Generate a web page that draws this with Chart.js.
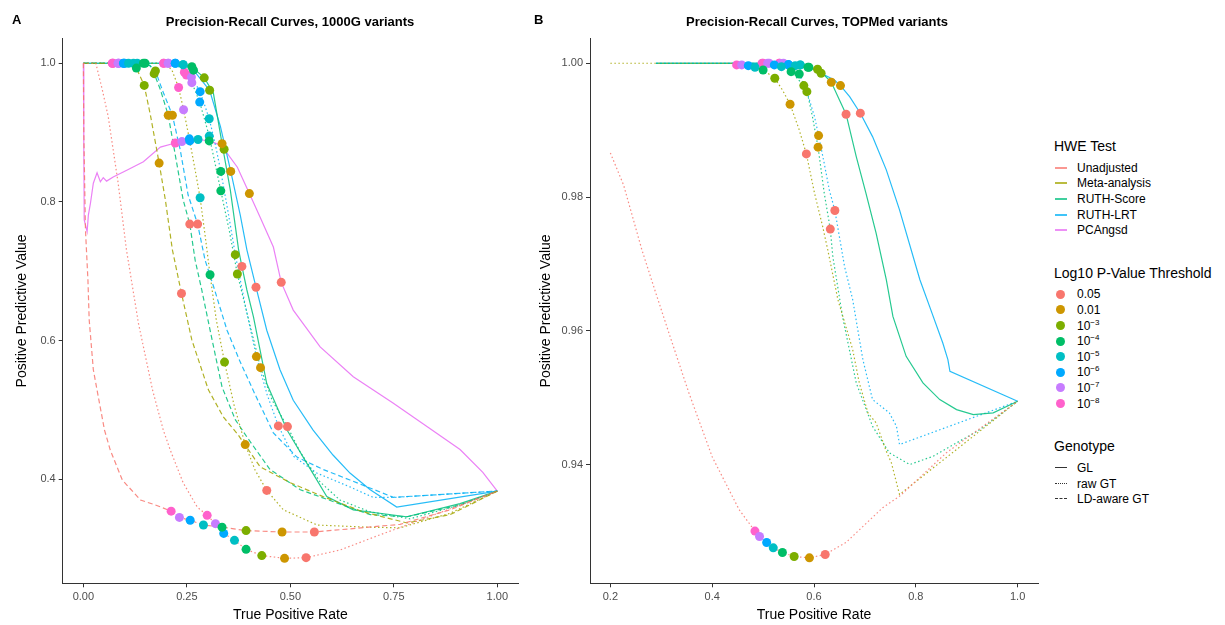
<!DOCTYPE html>
<html>
<head>
<meta charset="utf-8">
<script src="https://cdn.jsdelivr.net/npm/chart.js@4.4.1/dist/chart.umd.min.js"></script>
<style>
  body { margin: 0; width: 1225px; height: 625px; background: #fff; position: relative; overflow: hidden;
         font-family: "Liberation Sans", Arial, sans-serif; color: #000; }
  canvas { position: absolute; top: 0; }
  .tag, .ttl { position: absolute; font-weight: bold; font-size: 13px; white-space: nowrap; }
  .ttl { transform: translateX(-50%); }
  .lg { position: absolute; white-space: nowrap; font-size: 12px; line-height: 14px; }
  .lg.head { font-size: 14px; line-height: 16px; }
  .key { position: absolute; width: 12px; height: 2px; }
  .gkey { position: absolute; width: 12px; height: 0; }
  .dot { position: absolute; width: 9px; height: 9px; border-radius: 50%; }
  sup { font-size: 8px; vertical-align: 5px; line-height: 0; }
</style>
</head>
<body>
<canvas id="chartA" width="530" height="625" style="left:0"></canvas>
<canvas id="chartB" width="520" height="625" style="left:530px"></canvas>
<div class="tag" style="left:12px;top:12px">A</div>
<div class="ttl" style="left:290px;top:14px">Precision-Recall Curves, 1000G variants</div>
<div class="tag" style="left:534px;top:12px">B</div>
<div class="ttl" style="left:817px;top:14px">Precision-Recall Curves, TOPMed variants</div>
<div id="legend"></div>

<script>
// ---- axes
const xTicksA = [0, 0.25, 0.5, 0.75, 1];
const yTicksA = [0.4, 0.6, 0.8, 1.0];
const xTicksB = [0.2, 0.4, 0.6, 0.8, 1.0];
const yTicksB = [0.94, 0.96, 0.98, 1.00];

// ---- legend
const methods = ['Unadjusted', 'Meta-analysis', 'RUTH-Score', 'RUTH-LRT', 'PCAngsd'];
const methodColors = ['#F8766D', '#A3A500', '#00BF7D', '#00B0F6', '#E76BF3'];
const thresholds = ['0.05', '0.01', '10<sup>−3</sup>', '10<sup>−4</sup>', '10<sup>−5</sup>', '10<sup>−6</sup>', '10<sup>−7</sup>', '10<sup>−8</sup>'];
const thresholdColors = ['#F8766D', '#CD9600', '#7CAE00', '#00BE67', '#00BFC4', '#00A9FF', '#C77CFF', '#FF61CC'];
const genotypes = ['GL', 'raw GT', 'LD-aware GT'];

// ---- panel A curves (TPR, PPV)
const A_unadjRaw = [[0,1],[0.03,1.0],[0.046,0.961],[0.060,0.923],[0.072,0.875],[0.084,0.827],[0.104,0.731],[0.133,0.625],[0.167,0.529],[0.193,0.471],[0.210,0.442],[0.241,0.395],[0.275,0.360],[0.299,0.348],[0.319,0.336],[0.339,0.322],[0.365,0.312],[0.393,0.299],[0.431,0.290],[0.486,0.286],[0.538,0.287],[0.620,0.298],[0.717,0.320],[0.813,0.341],[0.910,0.363],[1.0,0.383]];
const A_unadjLD = [[0,1],[0.001,0.90],[0.005,0.760],[0.011,0.687],[0.014,0.630],[0.024,0.558],[0.036,0.519],[0.051,0.471],[0.065,0.442],[0.094,0.399],[0.138,0.370],[0.174,0.363],[0.212,0.354],[0.232,0.345],[0.258,0.341],[0.290,0.334],[0.335,0.331],[0.393,0.326],[0.480,0.324],[0.558,0.324],[0.765,0.335],[0.886,0.356],[1.0,0.383]];
const A_metaRaw = [[0,1],[0.198,1.0],[0.214,0.990],[0.230,0.965],[0.242,0.933],[0.256,0.891],[0.270,0.846],[0.282,0.806],[0.294,0.752],[0.306,0.695],[0.321,0.630],[0.341,0.569],[0.364,0.507],[0.391,0.450],[0.415,0.413],[0.443,0.384],[0.483,0.356],[0.565,0.334],[0.685,0.331],[0.765,0.330],[0.886,0.351],[1.0,0.383]];
const A_metaLD = [[0,1],[0.070,1.0],[0.109,1.0],[0.118,0.998],[0.128,0.993],[0.147,0.968],[0.162,0.925],[0.183,0.856],[0.198,0.803],[0.215,0.731],[0.237,0.668],[0.262,0.601],[0.302,0.529],[0.338,0.490],[0.374,0.464],[0.427,0.418],[0.500,0.395],[0.579,0.375],[0.676,0.353],[0.782,0.337],[0.886,0.349],[1.0,0.383]];
const A_scoreGL = [[0,1],[0.194,1.0],[0.222,1.0],[0.241,0.998],[0.262,0.995],[0.292,0.979],[0.314,0.957],[0.335,0.884],[0.355,0.817],[0.375,0.731],[0.383,0.707],[0.395,0.673],[0.411,0.634],[0.443,0.538],[0.492,0.471],[0.540,0.423],[0.588,0.375],[0.652,0.356],[0.781,0.346],[0.910,0.365],[1.0,0.383]];
const A_scoreRaw = [[0,1],[0.229,1.0],[0.249,0.983],[0.262,0.972],[0.281,0.944],[0.304,0.895],[0.319,0.853],[0.332,0.816],[0.353,0.757],[0.372,0.696],[0.398,0.633],[0.428,0.561],[0.456,0.514],[0.493,0.476],[0.524,0.439],[0.572,0.396],[0.620,0.370],[0.693,0.353],[0.789,0.343],[0.910,0.363],[1.0,0.383]];
const A_scoreLD = [[0,1],[0.070,1.0],[0.130,1.0],[0.145,1.0],[0.162,0.996],[0.171,0.985],[0.186,0.962],[0.205,0.925],[0.224,0.861],[0.241,0.803],[0.257,0.768],[0.270,0.716],[0.286,0.673],[0.311,0.601],[0.335,0.533],[0.367,0.486],[0.395,0.461],[0.451,0.414],[0.524,0.385],[0.612,0.366],[0.693,0.349],[0.782,0.346],[0.910,0.363],[1.0,0.383]];
const A_lrtGL = [[0,1],[0.194,1.0],[0.222,1.0],[0.241,0.998],[0.266,0.990],[0.305,0.961],[0.331,0.909],[0.356,0.844],[0.379,0.781],[0.395,0.731],[0.417,0.677],[0.443,0.615],[0.475,0.558],[0.507,0.514],[0.555,0.471],[0.603,0.435],[0.644,0.409],[0.693,0.385],[0.757,0.360],[1.0,0.383]];
const A_lrtRaw = [[0,1],[0.222,1.0],[0.244,0.987],[0.261,0.980],[0.282,0.959],[0.304,0.920],[0.319,0.882],[0.332,0.844],[0.350,0.784],[0.367,0.724],[0.391,0.651],[0.418,0.577],[0.444,0.522],[0.471,0.477],[0.508,0.433],[0.564,0.409],[0.644,0.389],[0.700,0.374],[0.753,0.374],[1.0,0.383]];
const A_lrtLD = [[0,1],[0.072,1.0],[0.149,1.0],[0.162,0.996],[0.174,0.989],[0.191,0.961],[0.215,0.925],[0.234,0.875],[0.253,0.810],[0.276,0.768],[0.294,0.716],[0.315,0.677],[0.347,0.615],[0.379,0.569],[0.415,0.522],[0.459,0.467],[0.516,0.432],[0.580,0.414],[0.644,0.399],[0.749,0.374],[1.0,0.383]];
const A_pcangsd = [[0,1],[0.001,0.875],[0.002,0.774],[0.009,0.757],[0.012,0.781],[0.017,0.798],[0.024,0.827],[0.033,0.842],[0.041,0.829],[0.048,0.835],[0.056,0.830],[0.072,0.836],[0.106,0.846],[0.145,0.858],[0.186,0.879],[0.222,0.885],[0.238,0.887],[0.257,0.888],[0.277,0.890],[0.304,0.888],[0.331,0.882],[0.340,0.876],[0.372,0.850],[0.401,0.812],[0.427,0.778],[0.459,0.735],[0.478,0.684],[0.507,0.644],[0.572,0.591],[0.652,0.548],[0.748,0.510],[0.830,0.476],[0.910,0.443],[0.965,0.410],[1.0,0.383]];

// ---- panel A threshold points
const A_p05 = [[0.558,0.324],[0.538,0.287],[0.237,0.668],[0.443,0.384],[0.257,0.768],[0.276,0.768],[0.383,0.707],[0.417,0.677],[0.493,0.476],[0.471,0.477],[0.478,0.684]];
const A_p01 = [[0.480,0.324],[0.486,0.286],[0.183,0.856],[0.391,0.450],[0.205,0.925],[0.215,0.925],[0.335,0.884],[0.356,0.844],[0.428,0.561],[0.418,0.577],[0.401,0.812]];
const A_p1e3 = [[0.393,0.326],[0.431,0.290],[0.147,0.968],[0.341,0.569],[0.171,0.985],[0.174,0.989],[0.292,0.979],[0.305,0.961],[0.372,0.696],[0.367,0.724],[0.340,0.876]];
const A_p1e4 = [[0.335,0.331],[0.393,0.299],[0.128,0.993],[0.306,0.695],[0.145,1.0],[0.149,1.0],[0.262,0.995],[0.266,0.990],[0.332,0.816],[0.332,0.844],[0.304,0.888]];
const A_p1e5 = [[0.290,0.334],[0.365,0.312],[0.109,1.0],[0.282,0.806],[0.130,1.0],[0.121,1.0],[0.241,0.998],[0.241,0.998],[0.304,0.895],[0.304,0.920],[0.277,0.890]];
const A_p1e6 = [[0.258,0.341],[0.339,0.322],[0.097,1.0],[0.256,0.891],[0.097,1.0],[0.100,1.0],[0.222,1.0],[0.222,1.0],[0.281,0.944],[0.282,0.959],[0.257,0.888]];
const A_p1e7 = [[0.232,0.345],[0.319,0.336],[0.084,1.0],[0.242,0.933],[0.084,1.0],[0.086,1.0],[0.205,1.0],[0.205,1.0],[0.262,0.972],[0.261,0.980],[0.238,0.887]];
const A_p1e8 = [[0.212,0.354],[0.299,0.348],[0.070,1.0],[0.230,0.965],[0.070,1.0],[0.072,1.0],[0.194,1.0],[0.194,1.0],[0.249,0.983],[0.244,0.987],[0.222,0.885]];

// ---- panel B curves
const B_unadjRaw = [[0.200,0.9866],[0.226,0.9818],[0.262,0.9721],[0.287,0.9662],[0.315,0.9597],[0.354,0.9508],[0.400,0.9412],[0.453,0.9333],[0.484,0.9301],[0.493,0.9293],[0.507,0.9284],[0.520,0.9276],[0.538,0.9269],[0.561,0.9263],[0.591,0.9261],[0.622,0.9266],[0.663,0.9284],[0.735,0.9336],[0.768,0.9353],[0.860,0.9418],[1.0,0.9495]];
const B_metaRaw = [[0.2,1.0],[0.44,1.0],[0.448,0.99975],[0.458,0.99975],[0.471,0.99964],[0.484,0.9994],[0.500,0.9990],[0.523,0.99776],[0.538,0.99601],[0.553,0.99388],[0.571,0.99004],[0.585,0.98646],[0.601,0.9806],[0.617,0.97561],[0.627,0.97213],[0.647,0.96467],[0.676,0.95721],[0.689,0.95224],[0.706,0.94776],[0.722,0.94627],[0.742,0.94203],[0.752,0.9403],[0.768,0.93557],[1.0,0.9495]];
const B_scoreGL = [[0.29,1.0],[0.52,1.0],[0.532,1.0],[0.536,0.99995],[0.550,0.9998],[0.573,0.99975],[0.588,0.9994],[0.607,0.9991],[0.620,0.99825],[0.634,0.99716],[0.650,0.99452],[0.663,0.99239],[0.683,0.98606],[0.702,0.9806],[0.722,0.97463],[0.742,0.96766],[0.755,0.96218],[0.781,0.95621],[0.814,0.95224],[0.847,0.94975],[0.880,0.94825],[0.913,0.94751],[0.952,0.94776],[1.0,0.9495]];
const B_scoreRaw = [[0.29,1.0],[0.49,1.0],[0.498,1.0],[0.509,1.0],[0.522,0.99975],[0.536,0.99949],[0.555,0.99875],[0.580,0.99666],[0.587,0.99557],[0.597,0.99199],[0.608,0.98746],[0.620,0.98064],[0.632,0.97522],[0.637,0.9711],[0.656,0.96218],[0.683,0.95224],[0.715,0.94576],[0.748,0.94179],[0.788,0.94004],[0.834,0.94128],[0.926,0.94527],[1.0,0.9495]];
const B_lrtGL = [[0.29,1.0],[0.52,1.0],[0.532,1.0],[0.540,1.0],[0.550,0.99975],[0.573,0.99975],[0.590,0.9994],[0.614,0.9985],[0.640,0.9975],[0.652,0.99666],[0.670,0.9950],[0.691,0.99254],[0.715,0.98904],[0.742,0.98407],[0.768,0.9781],[0.808,0.96766],[0.827,0.96367],[0.853,0.95821],[0.863,0.95572],[0.867,0.95397],[1.0,0.9495]];
const B_lrtRaw = [[0.29,1.0],[0.49,1.0],[0.500,1.0],[0.512,1.0],[0.550,0.99975],[0.563,0.99964],[0.571,0.9984],[0.586,0.99576],[0.601,0.99203],[0.609,0.98919],[0.620,0.98507],[0.630,0.98109],[0.641,0.978],[0.660,0.96964],[0.676,0.96467],[0.696,0.95572],[0.715,0.94975],[0.748,0.94776],[0.762,0.94576],[0.768,0.94303],[1.0,0.9495]];

// ---- panel B threshold points
const B_p05 = [[0.622,0.9266],[0.585,0.98646],[0.632,0.97522],[0.641,0.978],[0.663,0.99239],[0.691,0.99254]];
const B_p01 = [[0.591,0.9261],[0.553,0.99388],[0.608,0.98746],[0.609,0.98919],[0.634,0.99716],[0.652,0.99666]];
const B_p1e3 = [[0.561,0.9263],[0.523,0.99776],[0.580,0.99666],[0.586,0.99576],[0.607,0.9991],[0.614,0.9985]];
const B_p1e4 = [[0.538,0.9269],[0.500,0.9990],[0.555,0.99875],[0.571,0.9984],[0.588,0.9994],[0.590,0.9994]];
const B_p1e5 = [[0.520,0.9276],[0.484,0.9994],[0.536,0.99949],[0.563,0.99964],[0.573,0.99975],[0.573,0.99975]];
const B_p1e6 = [[0.507,0.9284],[0.471,0.99964],[0.522,0.99975],[0.550,0.99975],[0.550,0.9998],[0.550,0.99975]];
const B_p1e7 = [[0.493,0.9293],[0.458,0.99975],[0.509,1.0],[0.512,1.0],[0.536,0.99995],[0.540,1.0]];
const B_p1e8 = [[0.484,0.9301],[0.448,0.99975],[0.498,1.0],[0.500,1.0],[0.532,1.0],[0.532,1.0]];

// [data, method index, genotype index]  genotype: 0 GL, 1 raw GT, 2 LD-aware GT
const curvesA = [
  [A_unadjRaw, 0, 1], [A_unadjLD, 0, 2],
  [A_metaRaw, 1, 1], [A_metaLD, 1, 2],
  [A_scoreGL, 2, 0], [A_scoreRaw, 2, 1], [A_scoreLD, 2, 2],
  [A_lrtGL, 3, 0], [A_lrtRaw, 3, 1], [A_lrtLD, 3, 2],
  [A_pcangsd, 4, 0]
];
const curvesB = [
  [B_unadjRaw, 0, 1], [B_metaRaw, 1, 1],
  [B_scoreGL, 2, 0], [B_scoreRaw, 2, 1],
  [B_lrtGL, 3, 0], [B_lrtRaw, 3, 1]
];
const pointsA = [A_p05, A_p01, A_p1e3, A_p1e4, A_p1e5, A_p1e6, A_p1e7, A_p1e8];
const pointsB = [B_p05, B_p01, B_p1e3, B_p1e4, B_p1e5, B_p1e6, B_p1e7, B_p1e8];

const dashes = [[], [1.5, 2.5], [5, 3]];
const FONT = '"Liberation Sans", Arial, sans-serif';

function hexA(hex, a) {
  const n = parseInt(hex.slice(1), 16);
  return `rgba(${n >> 16},${(n >> 8) & 255},${n & 255},${a})`;
}

function makeChart(id, curves, points, opt) {
  const datasets = [];
  curves.forEach(([d, m, g]) => {
    datasets.push({
      data: d.map(p => ({x: p[0], y: p[1]})),
      showLine: true, pointRadius: 0, pointHoverRadius: 0,
      borderColor: hexA(methodColors[m], 0.85), borderWidth: 1.2,
      borderDash: dashes[g], tension: 0, fill: false, order: 20
    });
  });
  points.forEach((d, i) => {
    datasets.push({
      data: d.map(p => ({x: p[0], y: p[1]})),
      showLine: false, pointRadius: 4.5, pointHoverRadius: 4.5,
      backgroundColor: thresholdColors[i], borderWidth: 0, order: i + 1
    });
  });

  const axisColor = '#333';
  new Chart(document.getElementById(id), {
    type: 'scatter',
    data: {datasets},
    options: {
      responsive: false, animation: false,
      layout: {padding: {left: 0, right: opt.padRight, top: 38.5, bottom: 0}},
      plugins: {legend: {display: false}, tooltip: {enabled: false}},
      scales: {
        x: {
          type: 'linear', min: opt.xMin, max: opt.xMax,
          afterBuildTicks: s => { s.ticks = opt.xTicks.map(v => ({value: v})); },
          afterFit: s => { s.height = 625 - 583.3; },
          ticks: {callback: v => v.toFixed(opt.xDec), font: {size: 11, family: FONT}, color: '#4D4D4D', padding: 3, maxRotation: 0, autoSkip: false},
          grid: {drawOnChartArea: false, drawTicks: true, tickLength: 4, color: axisColor},
          border: {display: true, color: axisColor, width: 1},
          title: {display: true, text: 'True Positive Rate', font: {size: 14, family: FONT}, color: '#000', padding: {top: 0, bottom: 1.6}}
        },
        y: {
          type: 'linear', min: opt.yMin, max: opt.yMax,
          afterBuildTicks: s => { s.ticks = opt.yTicks.map(v => ({value: v})); },
          afterFit: s => { s.width = opt.left; },
          ticks: {callback: v => v.toFixed(opt.yDec), font: {size: 11, family: FONT}, color: '#4D4D4D', padding: 3, autoSkip: false},
          grid: {drawOnChartArea: false, drawTicks: true, tickLength: 4, color: axisColor},
          border: {display: true, color: axisColor, width: 1},
          title: {display: true, text: 'Positive Predictive Value', font: {size: 14, family: FONT}, color: '#000', padding: {top: opt.yTitlePad, bottom: 0}}
        }
      }
    }
  });
}

makeChart('chartA', curvesA, pointsA, {
  xMin: -0.05, xMax: 1.05, yMin: 0.25, yMax: 1.0357,
  xTicks: xTicksA, yTicks: yTicksA, xDec: 2, yDec: 1,
  left: 62.7, padRight: 12, yTitlePad: 14
});
makeChart('chartB', curvesB, pointsB, {
  xMin: 0.16, xMax: 1.04, yMin: 0.9223, yMax: 1.0037,
  xTicks: xTicksB, yTicks: yTicksB, xDec: 1, yDec: 2,
  left: 60, padRight: 12, yTitlePad: 8
});

// ---- legend
const leg = document.getElementById('legend');
function add(html, cls, left, top) {
  const el = document.createElement('div');
  el.className = cls;
  el.style.left = left + 'px';
  el.style.top = top + 'px';
  el.innerHTML = html;
  leg.appendChild(el);
  return el;
}
add('HWE Test', 'lg head', 1054, 138);
methods.forEach((m, i) => {
  const cy = 167.7 + i * 15.6;
  const k = add('', 'key', 1055, cy - 1);
  k.style.background = methodColors[i];
  k.style.opacity = '0.75';
  add(m, 'lg', 1077, cy - 7);
});
add('Log10 P-Value Threshold', 'lg head', 1054, 264.5);
thresholds.forEach((t, i) => {
  const cy = 294.3 + i * 15.6;
  const d = add('', 'dot', 1056.2, cy - 4.5);
  d.style.background = thresholdColors[i];
  add(t, 'lg', 1077, cy - 7);
});
add('Genotype', 'lg head', 1054, 438);
const keyStyles = ['solid', 'dotted', 'dashed'];
genotypes.forEach((g, i) => {
  const cy = 468.3 + i * 15.5;
  const k = add('', 'gkey', 1055, cy - 1);
  k.style.borderTop = '1.5px ' + keyStyles[i] + ' #333';
  add(g, 'lg', 1077, cy - 7);
});
</script>
</body>
</html>
